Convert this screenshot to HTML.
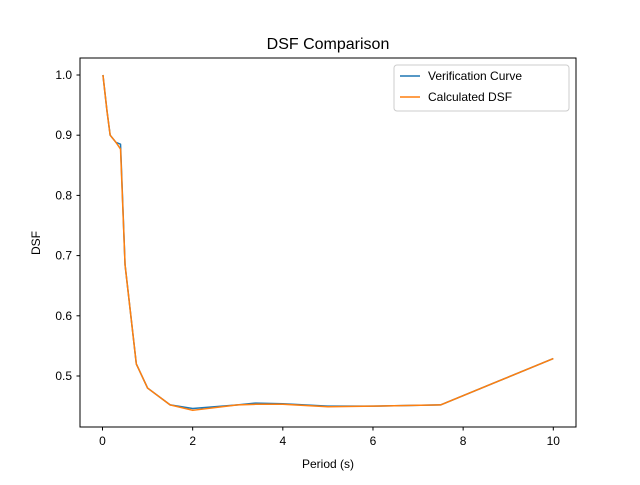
<!DOCTYPE html>
<html><head><meta charset="utf-8"><style>body{margin:0;background:#fff}svg{font-family:"Liberation Sans","DejaVu Sans",sans-serif}</style></head>
<body>
<svg id="chart" width="640" height="480">
<rect x="0" y="0" width="640" height="480" fill="#fff"/>
<text x="328" y="49" font-size="16" text-anchor="middle">DSF Comparison</text>
<g id="ticks"></g>
<g id="lines"></g>
<rect x="80" y="58" width="496" height="369" fill="none" stroke="#000" stroke-width="1"/>
<text x="328" y="468" font-size="12" text-anchor="middle">Period (s)</text>
<text x="0" y="0" font-size="12" text-anchor="middle" transform="translate(40,243) rotate(-90)">DSF</text>
<g>
<rect x="394" y="65" width="175" height="46" rx="3" fill="#fff" stroke="#ccc"/>
<line x1="400" y1="76" x2="420" y2="76" stroke="#1f77b4" stroke-width="1.5"/>
<text x="428" y="80" font-size="12">Verification Curve</text>
<line x1="400" y1="97" x2="420" y2="97" stroke="#ff7f0e" stroke-width="1.5"/>
<text x="428" y="101" font-size="12">Calculated DSF</text>
</g>
</svg>
<script>
const xTicks=[0,2,4,6,8,10];
const yTicks=[0.5,0.6,0.7,0.8,0.9,1.0];
const periods=[0.01,0.1,0.17,0.3,0.4,0.5,0.75,1,1.5,2,3,3.4,4,5,6,7.5,10];
const verification=[1.0,0.94,0.9,0.888,0.885,0.685,0.52,0.48,0.452,0.446,0.452,0.455,0.454,0.45,0.45,0.452,0.529];
const calculated=[1.0,0.94,0.9,0.888,0.877,0.685,0.52,0.48,0.452,0.443,0.452,0.453,0.453,0.449,0.45,0.452,0.529];
const NS="http://www.w3.org/2000/svg";
const xs=v=>102.5+v*45.08;
const ys=v=>75+(1.0-v)*602;
const tg=document.getElementById('ticks');
function mk(t,a,p){const e=document.createElementNS(NS,t);for(const k in a)e.setAttribute(k,a[k]);p.appendChild(e);return e;}
xTicks.forEach(t=>{
 const l=mk('line',{x1:xs(t),x2:xs(t),y1:427,y2:430.5,stroke:'#000'},tg);
 
 
 const tx=mk('text',{x:xs(t),y:445,'font-size':12,'text-anchor':'middle'},tg);tx.textContent=t;
 
 
});
yTicks.forEach(t=>{
 const l=mk('line',{x1:76.5,x2:80,y1:ys(t),y2:ys(t),stroke:'#000'},tg);
 
 
 const tx=mk('text',{x:72,y:ys(t)+4,'font-size':12,'text-anchor':'end'},tg);tx.textContent=t.toFixed(1);
 
 
});
const lg=document.getElementById('lines');
[[verification,'#1f77b4','verification-curve-line'],[calculated,'#ff7f0e','calculated-dsf-line']].forEach(([d,c,n])=>{
 const p=mk('polyline',{points:periods.map((x,i)=>xs(x)+','+ys(d[i])).join(' '),fill:'none',stroke:c,'stroke-width':1.5,'stroke-linejoin':'round'},lg);
 
 
});
</script>
</body></html>
